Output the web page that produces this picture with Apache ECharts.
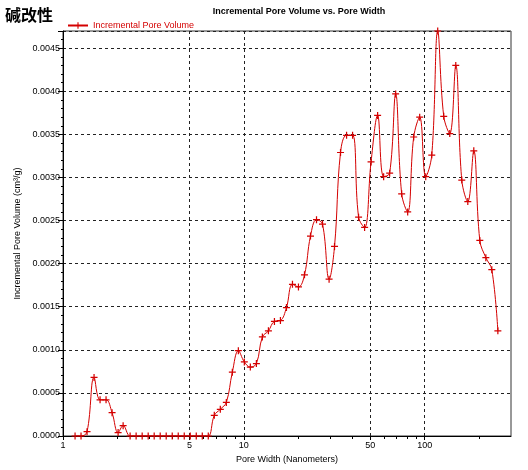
<!DOCTYPE html>
<html>
<head>
<meta charset="utf-8">
<script src="https://cdn.jsdelivr.net/npm/echarts@6/dist/echarts.min.js"></script>
<style>
  html, body { margin: 0; padding: 0; background: #fff; }
  #chart { width: 528px; height: 470px; }
</style>
</head>
<body>
<div id="chart"></div>
<script>
// pore width (nm)
var poreWidth = [
  1.166, 1.258, 1.358, 1.485, 1.603, 1.730, 1.868, 2.017, 2.150, 2.350,
  2.537, 2.740, 2.958, 3.193, 3.447, 3.721, 4.017, 4.337, 4.682, 5.054,
  5.456, 5.890, 6.358, 6.864, 7.410, 8.000, 8.636, 9.322, 10.06, 10.86,
  11.73, 12.66, 13.67, 14.76, 15.93, 17.20, 18.57, 20.04, 21.64, 23.36,
  25.22, 27.22, 29.60, 31.72, 34.24, 36.98, 39.92, 43.09, 46.52, 50.50,
  54.90, 59.28, 63.99, 69.08, 74.58, 80.51, 86.93, 93.82, 101.3, 109.4,
  118.0, 127.4, 137.6, 148.5, 160.3, 173.1, 186.8, 201.7, 217.8, 235.0,
  253.8
]
// incremental pore volume (cm3/g)
var poreVolume = [
  0, 0, 0.00005, 0.00068, 0.00042, 0.00042, 0.00027, 0.00004, 0.00012, 0,
  0, 0, 0, 0, 0, 0, 0, 0, 0, 0,
  0, 0, 0, 0.00024, 0.00031, 0.00039, 0.00074, 0.00099, 0.00086, 0.00080,
  0.00084, 0.00115, 0.00122, 0.00133, 0.00134, 0.00149, 0.00176, 0.00173, 0.00187, 0.00232,
  0.00251, 0.00246, 0.00182, 0.00220, 0.00329, 0.00349, 0.00349, 0.00254, 0.00242, 0.00318,
  0.00372, 0.00301, 0.00305, 0.00397, 0.00281, 0.00260, 0.00347, 0.00370, 0.00301, 0.00326,
  0.00470, 0.00371, 0.00351, 0.00430, 0.00297, 0.00272, 0.00331, 0.00227, 0.00207, 0.00193,
  0.00122
]
var xMajorTicks = [1, 5, 10, 50, 100]
var xMinorTicks = [2, 3, 4, 6, 7, 8, 9, 20, 30, 40, 60, 70, 80, 90, 200]

var chart = echarts.init(document.getElementById('chart'))
var red = '#d40000'
var plus = 'path://M3.3,0h1.4v3.3h3.3v1.4h-3.3v3.3h-1.4v-3.3h-3.3v-1.4h3.3z'

var option = {
  animation: false,
  textStyle: { fontFamily: 'Arial, Liberation Sans, sans-serif' },
  title: [
    {
      text: '碱改性',
      left: 0,
      top: 2,
      textStyle: { fontFamily: 'Noto Sans CJK SC', fontSize: 16, fontWeight: 'bold', color: '#000' }
    },
    {
      text: 'Incremental Pore Volume vs. Pore Width',
      left: 294,
      textAlign: 'center',
      top: 2,
      textStyle: { fontSize: 9, fontWeight: 'bold', color: '#000' }
    }
  ],
  legend: {
    left: 62,
    top: 16,
    itemWidth: 20,
    itemHeight: 8,
    itemGap: 6,
    textStyle: { color: red, fontSize: 9 },
    data: ['Incremental Pore Volume']
  },
  grid: {
    left: 63,
    right: 17,
    top: 31,
    bottom: 34,
    show: true,
    borderColor: '#333',
    borderWidth: 1
  },
  xAxis: [
    {
      type: 'log',
      logBase: 10,
      min: 1,
      max: 300,
      name: 'Pore Width (Nanometers)',
      nameLocation: 'middle',
      nameGap: 15,
      nameTextStyle: { fontSize: 9, color: '#000' },
      axisLine: { lineStyle: { color: '#000' } },
      axisTick: { length: 4, customValues: xMajorTicks, lineStyle: { color: '#000' } },
      axisLabel: { fontSize: 9, color: '#000', margin: 5, customValues: xMajorTicks },
      splitLine: { show: true, lineStyle: { color: '#222', type: [3, 3], width: 1 } }
    },
    {
      type: 'log',
      logBase: 10,
      min: 1,
      max: 300,
      position: 'bottom',
      axisLine: { show: false },
      axisTick: { length: 3, customValues: xMinorTicks, lineStyle: { color: '#000' } },
      axisLabel: { show: false },
      splitLine: { show: false }
    }
  ],
  yAxis: {
    type: 'value',
    min: 0,
    max: 0.0047,
    interval: 0.0005,
    name: 'Incremental Pore Volume (cm³/g)',
    nameLocation: 'middle',
    nameGap: 32,
    nameTextStyle: { fontSize: 9, color: '#000' },
    axisLine: { show: true, lineStyle: { color: '#000' } },
    axisTick: { show: true, length: 5, lineStyle: { color: '#000' } },
    minorTick: { show: true, splitNumber: 5, length: 2, lineStyle: { color: '#000' } },
    axisLabel: {
      fontSize: 9,
      color: '#000',
      margin: 3,
      showMaxLabel: false,
      formatter: function (v) { return v.toFixed(4) }
    },
    splitLine: { show: true, lineStyle: { color: '#222', type: [3, 3], width: 1 } }
  },
  series: [
    {
      name: 'Incremental Pore Volume',
      type: 'line',
      xAxisIndex: 0,
      smooth: 0.4,
      symbol: plus,
      symbolSize: 7,
      showAllSymbol: true,
      itemStyle: { color: red },
      lineStyle: { color: red, width: 1 },
      data: poreWidth.map(function (w, i) { return [w, poreVolume[i]] })
    }
  ]
}
chart.setOption(option)
</script>
</body>
</html>
